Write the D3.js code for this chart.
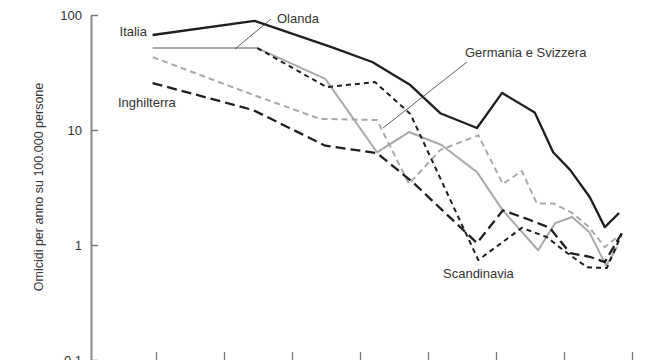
<!DOCTYPE html>
<html><head><meta charset="utf-8">
<script src="https://cdn.jsdelivr.net/npm/d3@7"></script>
<style>
html,body{margin:0;padding:0;background:#fff;}
svg{display:block;}
text{font-family:"Liberation Sans Narrow","Arial Narrow","Liberation Sans",sans-serif;fill:#333;}
</style></head>
<body>
<svg id="chart" width="662" height="360"></svg>
<script>
// Data: [year, homicides per 100,000]
const italia = [[1295,67],[1445,89],[1556,53],[1618,39],[1674,24.6],[1718,14],[1772,10.4],[1809,21],[1857,14.2],[1884,6.4],[1909,4.5],[1938,2.6],[1960,1.43],[1981,1.9]];
const olanda = [[1295,51.6],[1449,51.6],[1549,27.8],[1625,6.4],[1672,9.6],[1720,7.4],[1772,4.3],[1810,2.0],[1862,0.9],[1887,1.55],[1912,1.75],[1937,1.3],[1962,0.66],[1978,0.96]];
const germania = [[1295,43],[1445,20],[1541,12.5],[1625,12.2],[1672,3.4],[1718,6.7],[1774,9.0],[1810,3.4],[1838,4.4],[1860,2.3],[1884,2.3],[1912,1.9],[1937,1.43],[1960,0.96],[1978,1.17]];
const inghilterra = [[1295,25.6],[1443,14.9],[1549,7.3],[1625,6.3],[1678,3.5],[1772,1.04],[1810,2.0],[1850,1.65],[1879,1.41],[1909,0.85],[1938,0.79],[1960,0.71],[1985,1.27]];
const scandinavia = [[1449,51.6],[1551,23.6],[1622,26.1],[1674,13.8],[1774,0.74],[1838,1.41],[1875,1.17],[1899,0.9],[1934,0.64],[1963,0.63],[1985,1.25]];
const yTicks = [0.1,1,10,100];
const xTicks = [1300,1400,1500,1600,1700,1800,1900,2000];
const yLabel = "Omicidi per anno su 100.000 persone";

const svg = d3.select("#chart");
const x = d3.scaleLinear().domain([1300,2000]).range([156,632]);
const y = d3.scaleLog().domain([0.1,100]).range([360,15]);

// y axis
const ya = svg.append("g").attr("transform","translate(91,0)")
  .call(d3.axisLeft(y).tickValues(yTicks).tickFormat(d=>d===0.1?"0.1":d3.format("d")(d)).tickSize(-7).tickSizeOuter(0).tickPadding(9));
ya.select(".domain").attr("stroke","#888").attr("stroke-width",2);
ya.selectAll(".tick line").attr("stroke","#777").attr("stroke-width",1.5);
ya.selectAll(".tick text").style("font-size","13px").attr("fill","#333")
  .style("font-family","'Liberation Sans Narrow','Liberation Sans',sans-serif");

// x axis (ticks only, labels outside frame)
const xa = svg.append("g").attr("transform","translate(0,360)")
  .call(d3.axisBottom(x).tickValues(xTicks).tickSize(-8).tickFormat(""));
xa.select(".domain").remove();
xa.selectAll(".tick line").attr("stroke","#777").attr("stroke-width",1.3);

svg.append("text").attr("transform","translate(43,187) rotate(-90)")
  .attr("text-anchor","middle").style("font-size","12.5px").text(yLabel);

const line = d3.line().x(d=>x(d[0])).y(d=>y(d[1]));
const series = [
  {data:germania, color:"#a9a9a9", width:2, dash:"6,4"},
  {data:olanda, color:"#a9a9a9", width:2, dash:null},
  {data:scandinavia, color:"#1e1e1e", width:2, dash:"5,4"},
  {data:inghilterra, color:"#1e1e1e", width:2.3, dash:"10,5"},
  {data:italia, color:"#1e1e1e", width:2.3, dash:null}
];
series.forEach(s=>{
  svg.append("path").datum(s.data).attr("d",line)
    .attr("fill","none").attr("stroke",s.color).attr("stroke-width",s.width)
    .attr("stroke-linejoin","round")
    .attr("stroke-dasharray",s.dash);
});

// labels
const lab = (t,xx,yy,anchor)=>svg.append("text").attr("x",xx).attr("y",yy)
  .attr("text-anchor",anchor||"start").style("font-size","13px").text(t);
lab("Italia",147,36,"end");
lab("Inghilterra",118,107);
lab("Olanda",277,23);
lab("Germania e Svizzera",465,57);
lab("Scandinavia",443,278);

// leader lines
svg.append("line").attr("x1",235).attr("y1",49).attr("x2",271).attr("y2",19).attr("stroke","#333").attr("stroke-width",0.8);
svg.append("line").attr("x1",383).attr("y1",128).attr("x2",467).attr("y2",62).attr("stroke","#333").attr("stroke-width",0.8);
</script>
</body></html>
